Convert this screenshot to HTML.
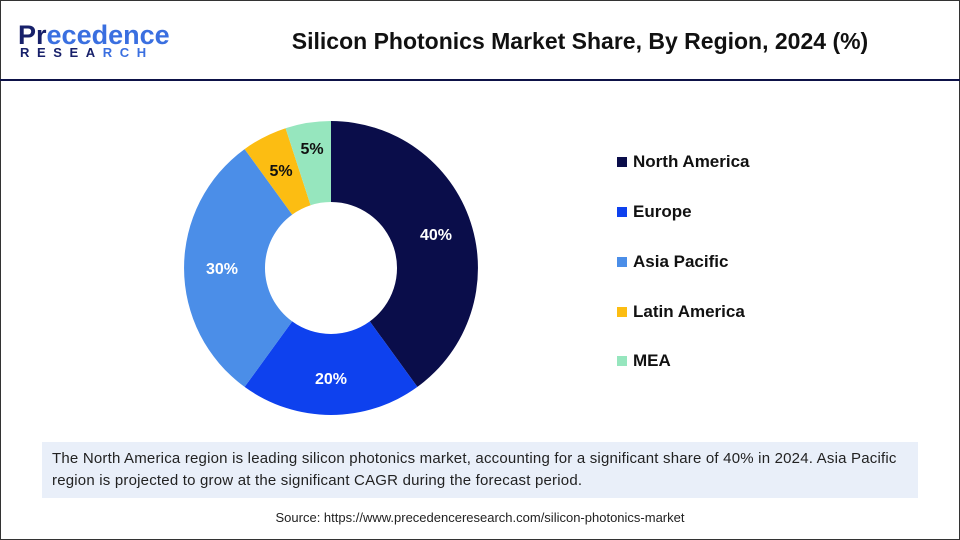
<!DOCTYPE html>
<html><head><meta charset="utf-8"><style>
body{margin:0;width:960px;height:540px;overflow:hidden;background:#fff;font-family:"Liberation Sans",Arial,sans-serif;}
.frame{position:absolute;left:0;top:0;width:958px;height:538px;border:1px solid #333;}
.hline{position:absolute;left:0;top:79px;width:960px;height:2px;background:#0d1248;}
.title{position:absolute;left:230px;top:28px;width:700px;text-align:center;font-size:23px;font-weight:bold;color:#111;}
.logo1{position:absolute;left:18px;top:20px;font-size:27px;font-weight:bold;color:#17206a;letter-spacing:0px;}
.logo1 span{color:#3a6fe0}
.logo2{position:absolute;left:20px;top:45px;font-size:13px;font-weight:bold;color:#17206a;letter-spacing:7.6px;}
.leg{position:absolute;left:617px;font-size:17px;font-weight:bold;color:#111;}
.leg i{display:inline-block;width:10px;height:10px;margin-right:6px;vertical-align:0px;}
.cap{position:absolute;left:42px;top:442px;height:56px;background:#e9eff9;padding:0 10px;font-size:15px;letter-spacing:0.2px;line-height:22px;color:#222;box-sizing:border-box;width:876px;padding-top:6px;white-space:nowrap;}
.src{position:absolute;left:0;top:510px;width:960px;text-align:center;font-size:13px;color:#222;}
</style></head><body>
<div class="frame"></div>
<div class="hline"></div>
<div class="logo1">Pr<span>ecedence</span></div>
<div class="logo2">RESEA<span style="color:#3a6fe0">RCH</span></div>
<div class="title">Silicon Photonics Market Share, By Region, 2024 (%)</div>
<svg width="960" height="540" style="position:absolute;left:0;top:0">
<path d="M331,121 A147,147 0 0 1 417.4,386.9 L369.8,321.4 A66,66 0 0 0 331,202 Z" fill="#0a0d4a"/>
<path d="M417.4,386.9 A147,147 0 0 1 244.6,386.9 L292.2,321.4 A66,66 0 0 0 369.8,321.4 Z" fill="#0e41ee"/>
<path d="M244.6,386.9 A147,147 0 0 1 244.6,149.1 L292.2,214.6 A66,66 0 0 0 292.2,321.4 Z" fill="#4b8ee8"/>
<path d="M244.6,149.1 A147,147 0 0 1 285.6,128.2 L310.6,205.2 A66,66 0 0 0 292.2,214.6 Z" fill="#fcbd12"/>
<path d="M285.6,128.2 A147,147 0 0 1 331,121 L331,202 A66,66 0 0 0 310.6,205.2 Z" fill="#96e6be"/>
<g font-family="Liberation Sans,Arial,sans-serif" font-weight="bold" font-size="16" text-anchor="middle">
<text x="436" y="240" fill="#fff">40%</text>
<text x="331" y="384" fill="#fff">20%</text>
<text x="222" y="274" fill="#fff">30%</text>
<text x="281" y="176" fill="#111">5%</text>
<text x="312" y="154" fill="#111">5%</text>
</g></svg>
<div class="leg" style="top:152px"><i style="background:#0a0d4a"></i>North America</div>
<div class="leg" style="top:202px"><i style="background:#0e41ee"></i>Europe</div>
<div class="leg" style="top:252px"><i style="background:#4b8ee8"></i>Asia Pacific</div>
<div class="leg" style="top:302px"><i style="background:#fcbd12"></i>Latin America</div>
<div class="leg" style="top:351px"><i style="background:#96e6be"></i>MEA</div>
<div class="cap">The North America region is leading silicon photonics market, accounting for a significant share of 40% in 2024. Asia Pacific<br>region is projected to grow at the significant CAGR during the forecast period.</div>
<div class="src">Source: https://www.precedenceresearch.com/silicon-photonics-market</div>
</body></html>
